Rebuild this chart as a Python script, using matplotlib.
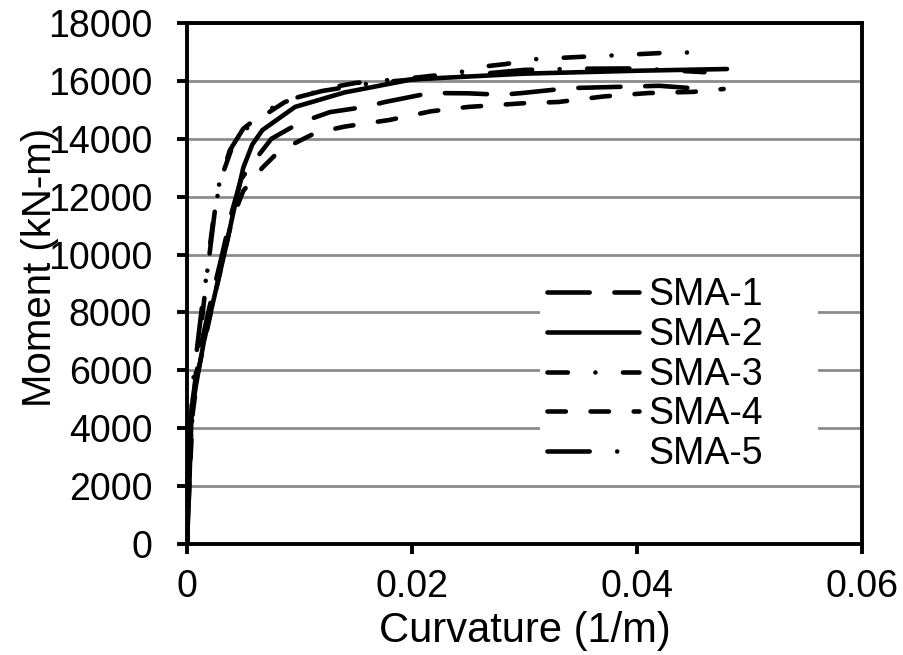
import numpy as np
import matplotlib.pyplot as plt
from matplotlib.patches import Rectangle

plt.rcParams['font.family'] = ['Liberation Sans', 'DejaVu Sans']

# curvature (1/m) / moment (kN-m)
sma1_x = [0, 0.0002, 0.0005, 0.0012, 0.002, 0.003, 0.004, 0.0048, 0.0059, 0.0075, 0.01,
          0.0127, 0.0158, 0.0176, 0.0216, 0.025, 0.028, 0.0298, 0.034, 0.038, 0.042, 0.0465]
sma1_y = [0, 2500, 5000, 6800, 8200, 9800, 11500, 12600, 13200, 14000, 14550,
          14920, 15100, 15270, 15580, 15570, 15520, 15580, 15750, 15790, 15830, 15700]

sma2_x = [0, 0.0002, 0.0004, 0.0008, 0.0015, 0.0024, 0.0033, 0.0042, 0.005, 0.0058,
          0.0067, 0.0096, 0.014, 0.02, 0.03, 0.04, 0.048]
sma2_y = [0, 2000, 4500, 5500, 7000, 8500, 10000, 11600, 13000, 13800,
          14300, 15100, 15600, 16050, 16250, 16350, 16410]

sma3_x = [0, 0.0003, 0.0008, 0.0014, 0.0021, 0.0024, 0.003, 0.004, 0.0051, 0.0069, 0.0087,
          0.0125, 0.015, 0.02, 0.024, 0.026, 0.0283, 0.031, 0.035, 0.039, 0.042, 0.0468]
sma3_y = [0, 3500, 6000, 8000, 10500, 11400, 12600, 13700, 14300, 14820, 15270,
          15750, 15930, 16100, 16270, 16480, 16580, 16750, 16830, 16900, 16960, 17000]

sma4_x = [0, 0.0002, 0.0005, 0.001, 0.002, 0.003, 0.004, 0.005, 0.0067, 0.008, 0.0096,
          0.0114, 0.014, 0.018, 0.0217, 0.025, 0.03, 0.033, 0.037, 0.041, 0.045, 0.0477]
sma4_y = [0, 2000, 4500, 6000, 7800, 9500, 11200, 12200, 13000, 13500, 13850,
          14200, 14420, 14650, 14950, 15100, 15230, 15270, 15460, 15580, 15620, 15720]

sma5_x = [0, 0.0002, 0.0005, 0.0014, 0.0019, 0.0027, 0.0038, 0.005, 0.007, 0.009, 0.012,
          0.016, 0.02, 0.025, 0.03, 0.035, 0.04, 0.046]
sma5_y = [0, 3000, 5500, 8430, 9700, 12230, 13600, 14350, 14950, 15350, 15650,
          15900, 16050, 16200, 16380, 16420, 16430, 16300]

names = ['SMA-1', 'SMA-2', 'SMA-3', 'SMA-4', 'SMA-5']
# excel style dashes, in units of line width
dash_styles = [(9.2, 5.4), None, (4.45, 6.0, 0.01, 6.0), (4.0, 5.4), (9.2, 6.0, 0.01, 6.0)]

fig = plt.figure(figsize=(9.04, 6.55), dpi=100)
ax = fig.add_axes([0.2069, 0.1695, 0.7466, 0.7954])

series = [(sma1_x, sma1_y), (sma2_x, sma2_y), (sma3_x, sma3_y), (sma4_x, sma4_y), (sma5_x, sma5_y)]
for (x, y), name, d in zip(series, names, dash_styles):
    line, = ax.plot(x, y, color='black', lw=3.3, label=name,
                    solid_capstyle='round', dash_capstyle='round', solid_joinstyle='round')
    if d is not None:
        line.set_dashes(d)

ax.set_xlim(0, 0.06)
ax.set_ylim(0, 18000)
ax.set_xticks([0, 0.02, 0.04, 0.06])
ax.set_xticklabels(['0', '0.02', '0.04', '0.06'])
ax.set_yticks(np.arange(0, 18001, 2000))
ax.yaxis.grid(True, color='#8c8c8c', lw=2)
ax.set_axisbelow(True)
for s in ax.spines.values():
    s.set_linewidth(2.8)
ax.tick_params(direction='out', length=7, width=2.8, labelsize=27)
ax.tick_params(axis='x', pad=11)
ax.tick_params(axis='y', pad=18)
ax.set_xlabel('Curvature (1/m)', fontsize=30)
ax.set_ylabel('Moment (kN-m)', fontsize=29)
ax.xaxis.set_label_coords(0.5, -0.128)
ax.yaxis.set_label_coords(-0.19, 0.53)

# white box behind the legend hides the gridlines there
ax.add_patch(Rectangle((0.523, 0.132), 0.412, 0.394, transform=ax.transAxes,
                       facecolor='white', edgecolor='none', zorder=0.8))

leg = ax.legend(loc='upper left', bbox_to_anchor=(0.533, 0.512), fontsize=27,
                handlelength=2.45, handletextpad=0.25, labelspacing=0.1,
                borderpad=0, borderaxespad=0, frameon=False)

fig.savefig('out.png', dpi=100)
